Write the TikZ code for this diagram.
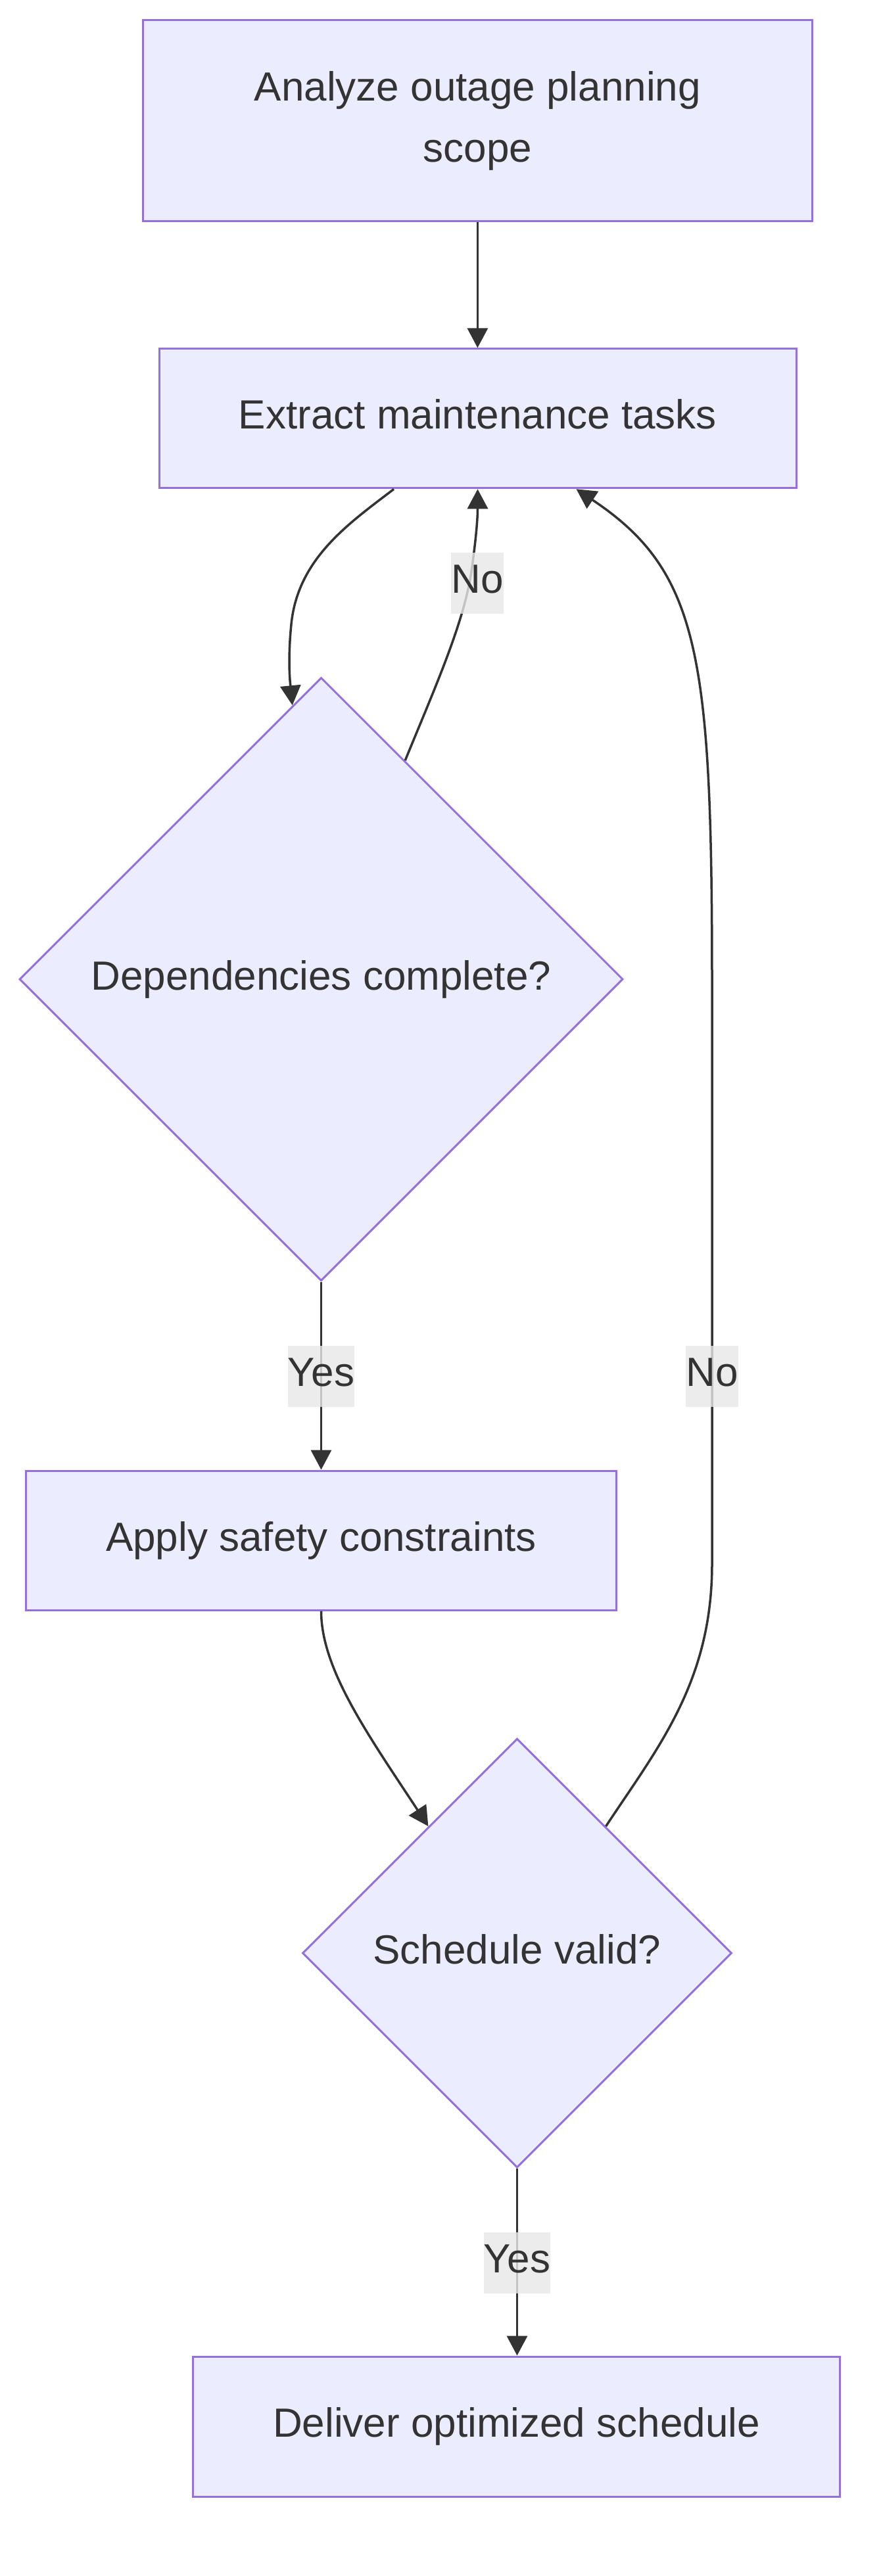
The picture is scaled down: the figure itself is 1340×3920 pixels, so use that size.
\documentclass[tikz,border=0pt]{standalone}
\usepackage{fontspec}
\setmainfont{Liberation Sans}
\usetikzlibrary{arrows.meta,shapes.geometric,calc}
\definecolor{nodefill}{HTML}{ECECFF}
\definecolor{nodeline}{HTML}{9370DB}
\definecolor{inkc}{HTML}{333333}
\definecolor{lblbg}{HTML}{E8E8E8}
\tikzset{
  procbox/.style={rectangle, draw=nodeline, fill=nodefill, line width=3pt, inner sep=0pt,
    text=inkc, font=\fontsize{62pt}{93pt}\selectfont, align=center},
  oneline/.style={text height=46.5pt, text depth=14.5pt},
  decision/.style={diamond, aspect=1, draw=nodeline, fill=nodefill, line width=3pt, inner sep=0pt,
    text=inkc, font=\fontsize{62pt}{93pt}\selectfont, text height=46.5pt, text depth=14.5pt},
  flow/.style={draw=inkc, line width=3.5pt, -{Triangle[length=30pt,width=31pt]}},
  edgelabel/.style={fill=lblbg, fill opacity=0.8, text opacity=1, text=inkc, inner sep=0pt,
    font=\fontsize{62pt}{93pt}\selectfont, text height=61.5pt, text depth=31.5pt}
}
\begin{document}
\begin{tikzpicture}[x=1pt, y={(0pt,-1pt)}]
\useasboundingbox[fill=white] (0,0) rectangle (1340,3920);

\node[procbox, minimum width=1018pt, minimum height=306pt] (b1) at (726.4,183.6) {Analyze outage planning\\scope};
\node[procbox, oneline, minimum width=969pt, minimum height=212pt] (b2) at (726.5,636.8) {Extract maintenance tasks};
\node[decision, minimum width=918pt, minimum height=918pt] (d1) at (488.5,1490) {Dependencies complete?};
\node[procbox, oneline, minimum width=898pt, minimum height=212pt] (b3) at (488.5,2344) {Apply safety constraints};
\node[decision, minimum width=653pt, minimum height=653pt] (d2) at (786.5,2972) {Schedule valid?};
\node[procbox, oneline, minimum width=984pt, minimum height=213pt] (b4) at (785.5,3692.5) {Deliver optimized schedule};

% b1 -> b2
\draw[flow] (b1.south) -- (b1.south |- b2.north);
% b2 -> d1
\draw[flow] ([xshift=-127.5pt]b2.south) .. controls (530,797) and (453,850) .. (443,950)
  .. controls (437,1010) and (442,1045) .. (d1.96);
% d1 -> b2 (No)
\draw[flow] (d1.69) .. controls (660,1050) and (705,950) .. (717,870)
  .. controls (724,820) and (726.5,790) .. (b2.south);
% d1 -> b3 (Yes)
\draw[flow] (d1.south) -- (d1.south |- b3.north);
% b3 -> d2
\draw[flow] (b3.south) .. controls (488.5,2540) and (560,2640) .. (d2.125);
% d2 -> b2 (No)
\draw[flow] (d2.55.6) .. controls (1000,2660) and (1083,2560) .. (1083,2380)
  -- (1083,1500) .. controls (1083,1000) and (1065,870) .. ([xshift=150pt]b2.south);
% d2 -> b4 (Yes)
\draw[flow] (d2.south) -- (d2.south |- b4.north);

\node[edgelabel] (lno1) at (726,887) {No};
\node[edgelabel] (lyes1) at (488.5,2094) {Yes};
\node[edgelabel] (lno2) at (1083,2094) {No};
\node[edgelabel] (lyes2) at (786.5,3443) {Yes};
\end{tikzpicture}
\end{document}
